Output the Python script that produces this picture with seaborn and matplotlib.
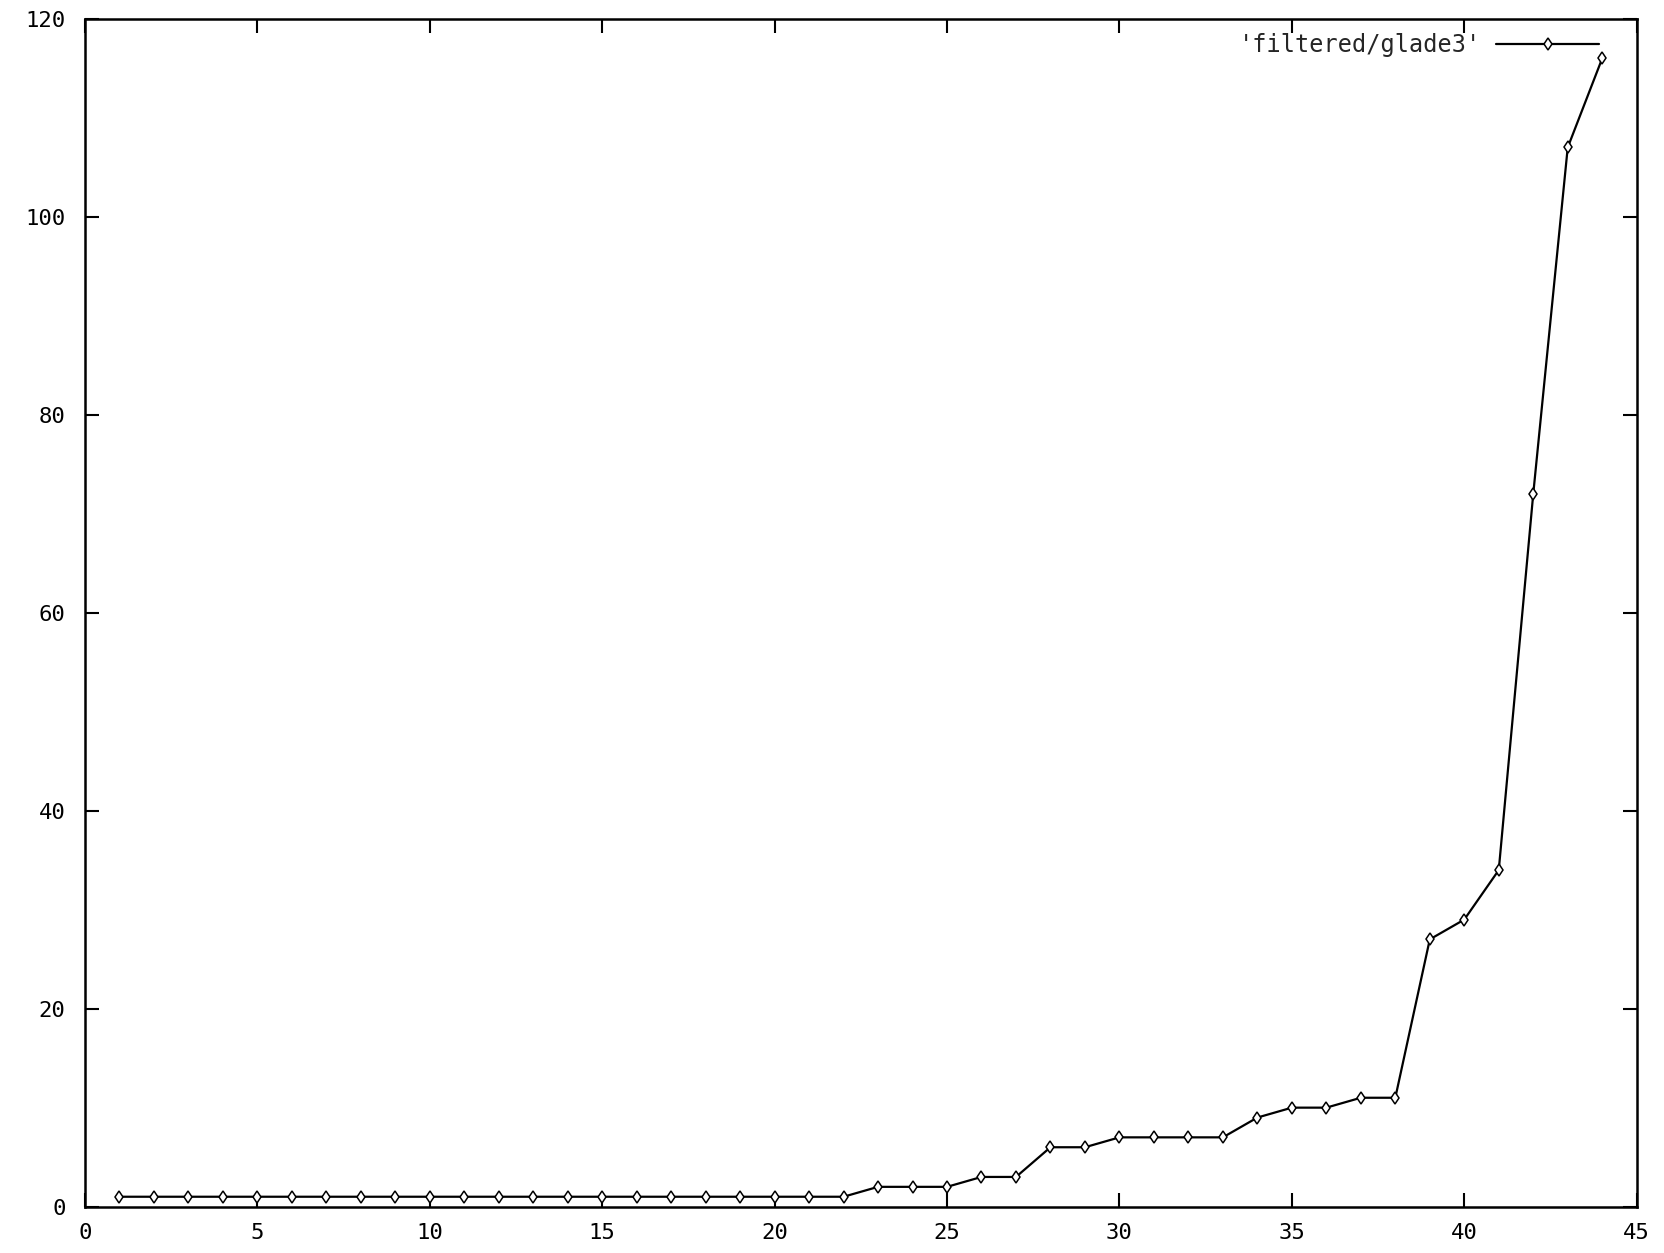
import matplotlib
matplotlib.use("Agg")
import matplotlib.pyplot as plt
import seaborn as sns
import pandas as pd

# values
x_vals = list(range(1, 45))
y_vals = [1] * 22 + [2, 2, 2, 3, 3, 6, 6, 7, 7, 7, 7, 9, 10, 10, 11, 11,
                     27, 29, 34, 72, 107, 116]
series_name = "'filtered/glade3'"
x_ticks = [0, 5, 10, 15, 20, 25, 30, 35, 40, 45]
y_ticks = [0, 20, 40, 60, 80, 100, 120]

df = pd.DataFrame({"x": x_vals, "y": y_vals})

sns.set_style("ticks")
plt.rcParams["font.family"] = ["DejaVu Sans Mono"]

fig = plt.figure(figsize=(16.65, 12.53), dpi=100)
ax = fig.add_axes([0.051, 0.037, 0.932, 0.948])

sns.lineplot(x="x", y="y", data=df, ax=ax, color="black", linewidth=1.6,
             marker="d", markersize=6.5, markerfacecolor="white",
             markeredgecolor="black", markeredgewidth=1.1, label=series_name)

ax.set_xlim(0, 45)
ax.set_ylim(0, 120)
ax.set_xticks(x_ticks)
ax.set_yticks(y_ticks)
ax.set_xlabel("")
ax.set_ylabel("")
ax.tick_params(direction="in", length=10, width=1.5, top=True, right=True,
               labelsize=16, colors="black")
ax.tick_params(axis="x", pad=12)
ax.tick_params(axis="y", pad=14)
for s in ax.spines.values():
    s.set_visible(True)
    s.set_linewidth(1.8)
    s.set_color("black")

leg = ax.legend(loc="center right", bbox_to_anchor=(0.976, 0.978),
                frameon=False, markerfirst=False, fontsize=17,
                handlelength=4.4, handletextpad=0.6,
                borderaxespad=0, borderpad=0)

fig.savefig("out.png", dpi=100)
